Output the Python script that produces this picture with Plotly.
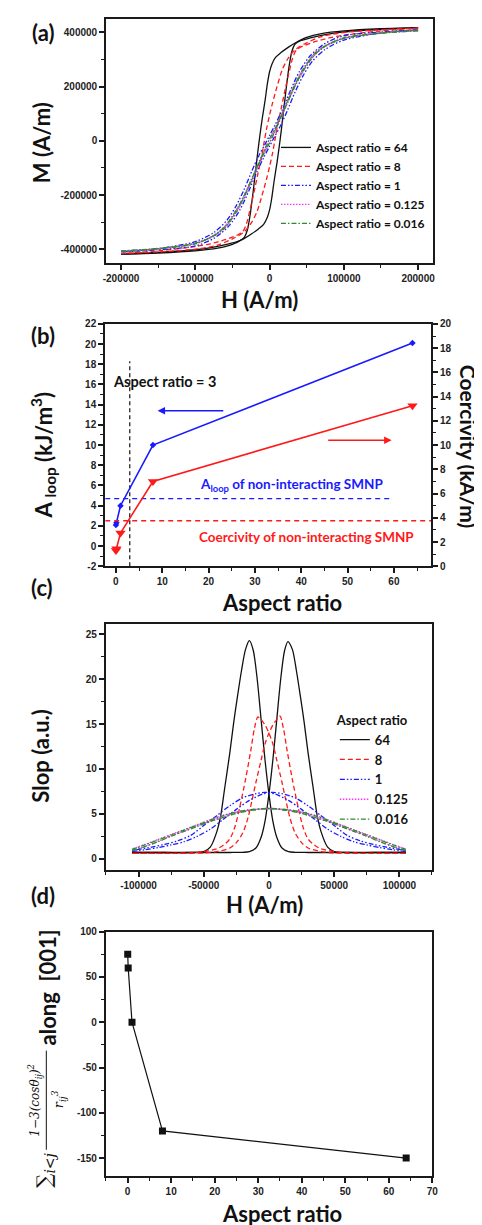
import plotly.graph_objects as go

W, H = 482, 1225
def px(x): return x / W
def py(y): return 1 - y / H

# ---------------- Panel (a): hysteresis loops ----------------
ar_names_a = ["Aspect ratio = 64", "Aspect ratio = 8", "Aspect ratio = 1",
              "Aspect ratio = 0.125", "Aspect ratio = 0.016"]

h_64_desc = [200000, 150000, 100000, 70000, 50000, 35000, 25000, 15000, 8000, 3000, 0, -3000, -6000, -10000,
             -14000, -18000, -22000, -26000, -30000, -34000, -40000, -55000, -75000, -100000, -150000, -200000]
m_64_desc = [418000, 414000, 406000, 396000, 382000, 362000, 345000, 325000, 308000, 282000, 255000, 210000, 150000, 80000,
             0, -90000, -185000, -270000, -330000, -356000, -368000, -380000, -392000, -402000, -412000, -418000]
h_64_asc = [-200000, -150000, -100000, -70000, -50000, -35000, -25000, -15000, -8000, -3000, 0, 3000, 6000, 10000,
            14000, 18000, 22000, 26000, 30000, 34000, 40000, 55000, 75000, 100000, 150000, 200000]
m_64_asc = [-418000, -414000, -406000, -396000, -382000, -362000, -345000, -325000, -308000, -282000, -255000, -210000, -150000, -80000,
            0, 90000, 185000, 270000, 330000, 356000, 368000, 380000, 392000, 402000, 412000, 418000]

h_8_desc = [200000, 150000, 100000, 70000, 50000, 35000, 25000, 17000, 10000, 4000, 0, -4000, -7000, -11000,
            -16000, -21000, -26000, -31000, -36000, -45000, -60000, -80000, -100000, -150000, -200000]
m_8_desc = [416000, 410000, 400000, 385000, 362000, 338000, 305000, 262000, 200000, 140000, 95000, 45000, 0, -60000,
            -125000, -190000, -250000, -305000, -335000, -350000, -365000, -380000, -390000, -406000, -416000]
h_8_asc = [-200000, -150000, -100000, -70000, -50000, -35000, -25000, -17000, -10000, -4000, 0, 4000, 7000, 11000,
           16000, 21000, 26000, 31000, 36000, 45000, 60000, 80000, 100000, 150000, 200000]
m_8_asc = [-416000, -410000, -400000, -385000, -362000, -338000, -305000, -262000, -200000, -140000, -95000, -45000, 0, 60000,
           125000, 190000, 250000, 305000, 335000, 350000, 365000, 380000, 390000, 406000, 416000]

h_1_desc = [200000, 150000, 100000, 75000, 55000, 40000, 28000, 18000, 8000, 0, -6000, -14000, -24000, -34000,
            -45000, -58000, -75000, -100000, -150000, -200000]
m_1_desc = [410000, 402000, 388000, 360000, 315000, 255000, 185000, 120000, 62000, 20000, -12000, -52000, -112000, -178000,
            -240000, -295000, -338000, -372000, -398000, -410000]
h_1_asc = [-200000, -150000, -100000, -75000, -55000, -40000, -28000, -18000, -8000, 0, 6000, 14000, 24000, 34000,
           45000, 58000, 75000, 100000, 150000, 200000]
m_1_asc = [-410000, -402000, -388000, -360000, -315000, -255000, -185000, -120000, -62000, -20000, 12000, 52000, 112000, 178000,
           240000, 295000, 338000, 372000, 398000, 410000]

h_s_desc = [200000, 150000, 100000, 75000, 60000, 45000, 35000, 25000, 15000, 8000, 0, -6000, -15000, -25000,
            -35000, -45000, -60000, -75000, -100000, -150000, -200000]
h_s_asc = [-200000, -150000, -100000, -75000, -60000, -45000, -35000, -25000, -15000, -8000, 0, 6000, 15000, 25000,
           35000, 45000, 60000, 75000, 100000, 150000, 200000]
m_0125_desc = [407000, 398000, 380000, 352000, 322000, 265000, 215000, 155000, 92000, 50000, 8000, -28000, -82000, -145000,
               -205000, -255000, -314000, -348000, -378000, -398000, -407000]
m_0125_asc = [-407000, -398000, -380000, -352000, -322000, -265000, -215000, -155000, -92000, -50000, -8000, 28000, 82000, 145000,
              205000, 255000, 314000, 348000, 378000, 398000, 407000]
m_0016_desc = [406000, 397000, 378000, 350000, 320000, 263000, 212000, 152000, 90000, 48000, 7000, -29000, -84000, -147000,
               -207000, -257000, -316000, -350000, -380000, -399000, -408000]
m_0016_asc = [-406000, -397000, -378000, -350000, -320000, -263000, -212000, -152000, -90000, -48000, -7000, 29000, 84000, 147000,
              207000, 257000, 316000, 350000, 380000, 399000, 408000]

a_xticks = [-200000, -100000, 0, 100000, 200000]
a_xtext = ["-200000", "-100000", "0", "100000", "200000"]
a_yticks = [-400000, -200000, 0, 200000, 400000]
a_ytext = ["-400000", "-200000", "0", "200000", "400000"]

# ---------------- Panel (b) ----------------
ar_b = [0.016, 0.125, 1, 8, 64]
aloop_b = [2.1, 2.3, 4.0, 10.0, 20.1]
coerc_b = [1.3, 1.45, 2.75, 7.0, 13.25]
ar3_line_x = [3, 3]
ar3_line_y = [-2, 18.3]
aloop_ref_x = [-2.3, 59.3]
aloop_ref_y = [4.7, 4.7]
coerc_ref_x = [-2.3, 68]
coerc_ref_y = [3.75, 3.75]
b_ytext_vals = [-2, 0, 2, 4, 6, 8, 10, 12, 14, 16, 18, 20, 22]
b_ytext = ["-2", "0", "2", "4", "6", "8", "10", "12", "14", "16", "18", "20", "22"]

# ---------------- Panel (c): slopes ----------------
ar_names_c = ["64", "8", "1", "0.125", "0.016"]
h_c64_l = [-105000, -80000, -60000, -50000, -45000, -40000, -37000, -34000, -30000, -27000, -24000, -21000, -18000, -15000,
           -12000, -9000, -6000, -3000, 0, 3000, 6000, 10000, 15000, 20000, 30000, 50000, 80000, 105000]
s_c64_l = [0.7, 0.7, 0.7, 0.8, 1.3, 3.0, 4.8, 7.8, 11.8, 15.2, 18.2, 21.0, 23.3, 24.3,
           23.2, 20.0, 15.5, 11.0, 7.2, 4.2, 2.4, 1.2, 0.8, 0.72, 0.7, 0.7, 0.7, 0.7]
h_c64_r = [105000, 80000, 60000, 50000, 45000, 40000, 37000, 34000, 30000, 27000, 24000, 21000, 18000, 14500,
           12000, 9000, 6000, 3000, 0, -3000, -6000, -10000, -15000, -20000, -30000, -50000, -80000, -105000]
s_c64_r = [0.7, 0.7, 0.7, 0.8, 1.3, 3.0, 4.8, 7.8, 11.8, 15.2, 18.2, 21.0, 23.3, 24.2,
           23.2, 20.0, 15.5, 11.0, 7.2, 4.2, 2.4, 1.2, 0.8, 0.72, 0.7, 0.7, 0.7, 0.7]

h_c8_l = [-105000, -80000, -60000, -50000, -40000, -35000, -30000, -26000, -22000, -18000, -14000, -11000, -8500, -6000,
          -3000, 0, 3000, 6000, 10000, 13000, 16000, 20000, 25000, 30000, 40000, 50000, 70000, 105000]
s_c8_l = [0.6, 0.6, 0.65, 0.8, 1.1, 1.5, 2.2, 3.6, 6.0, 8.8, 12.0, 14.6, 15.8, 15.5,
          14.9, 14.0, 12.8, 11.0, 8.5, 6.5, 4.6, 2.9, 1.8, 1.2, 0.8, 0.65, 0.6, 0.6]
h_c8_r = [105000, 80000, 60000, 50000, 40000, 35000, 30000, 26000, 22000, 18000, 14000, 11000, 8500, 6000,
          3000, 0, -3000, -6000, -10000, -13000, -16000, -20000, -25000, -30000, -40000, -50000, -70000, -105000]
s_c8_r = [0.6, 0.6, 0.65, 0.8, 1.1, 1.5, 2.2, 3.6, 6.0, 8.8, 12.0, 14.6, 15.9, 15.5,
          14.9, 14.0, 12.8, 11.0, 8.5, 6.5, 4.6, 2.9, 1.8, 1.2, 0.8, 0.65, 0.6, 0.6]

h_c1_r = [-105000, -95000, -85000, -75000, -65000, -55000, -45000, -35000, -25000, -15000, -5000, 0, 3000,
          10000, 20000, 30000, 40000, 50000, 60000, 70000, 80000, 90000, 100000, 105000]
s_c1 = [0.8, 1.0, 1.25, 1.55, 1.9, 2.5, 3.3, 4.4, 5.5, 6.5, 7.2, 7.35, 7.4,
        7.25, 6.8, 5.9, 4.8, 3.7, 2.6, 2.0, 1.6, 1.3, 1.05, 0.95]
h_c1_l = [105000, 95000, 85000, 75000, 65000, 55000, 45000, 35000, 25000, 15000, 5000, 0, -3000,
          -10000, -20000, -30000, -40000, -50000, -60000, -70000, -80000, -90000, -100000, -105000]

h_cs_r = [-105000, -95000, -85000, -75000, -65000, -55000, -45000, -35000, -25000, -15000, -5000, 0,
          5000, 15000, 25000, 35000, 45000, 55000, 65000, 75000, 85000, 95000, 105000]
h_cs_l = [105000, 95000, 85000, 75000, 65000, 55000, 45000, 35000, 25000, 15000, 5000, 0,
          -5000, -15000, -25000, -35000, -45000, -55000, -65000, -75000, -85000, -95000, -105000]
s_c0125 = [0.95, 1.4, 1.95, 2.55, 3.1, 3.65, 4.2, 4.65, 5.1, 5.4, 5.55, 5.58,
           5.56, 5.45, 5.22, 4.85, 4.35, 3.8, 3.25, 2.7, 2.15, 1.6, 1.1]
s_c0016 = [0.9, 1.35, 1.9, 2.5, 3.05, 3.6, 4.15, 4.6, 5.05, 5.35, 5.55, 5.6,
           5.58, 5.45, 5.2, 4.8, 4.3, 3.75, 3.2, 2.65, 2.1, 1.55, 1.05]

c_xticks = [-100000, -50000, 0, 50000, 100000]
c_xtext = ["-100000", "-50000", "0", "50000", "100000"]

# ---------------- Panel (d) ----------------
ar_d = [0.016, 0.125, 1, 8, 64]
dip_d = [75, 60, 0, -120, -150]
d_yticks = [-150, -100, -50, 0, 50, 100]
d_ytext = ["-150", "-100", "-50", "0", "50", "100"]

# ---------------- styles ----------------
BLACK, RED, BLUE, MAG, GRN = "#111111", "#ff1a1a", "#1a1aff", "#ff33ff", "#2e8b2e"
colors = [BLACK, RED, BLUE, MAG, GRN]
dashes = ["solid", "5px,3px", "5px,2px,1.5px,2px,1.5px,2px", "1.5px,1.5px", "5px,2px,1.5px,2px"]
LW = 1.3

fig = go.Figure()

loops = [(h_64_desc, m_64_desc, h_64_asc, m_64_asc),
         (h_8_desc, m_8_desc, h_8_asc, m_8_asc),
         (h_1_desc, m_1_desc, h_1_asc, m_1_asc),
         (h_s_desc, m_0125_desc, h_s_asc, m_0125_asc),
         (h_s_desc, m_0016_desc, h_s_asc, m_0016_asc)]
for i, (hd, md, ha, ma) in enumerate(loops):
    for j, (hx, my) in enumerate([(hd, md), (ha, ma)]):
        fig.add_trace(go.Scatter(x=hx, y=my, mode="lines", xaxis="x", yaxis="y",
                                 name=ar_names_a[i], showlegend=(j == 0), legend="legend",
                                 line=dict(color=colors[i], width=LW, dash=dashes[i],
                                           shape="spline", smoothing=0.8)))

# panel b
fig.add_trace(go.Scatter(x=ar3_line_x, y=ar3_line_y, mode="lines", xaxis="x2", yaxis="y2", showlegend=False,
                         line=dict(color=BLACK, width=1.2, dash="4px,3px")))
fig.add_trace(go.Scatter(x=aloop_ref_x, y=aloop_ref_y, mode="lines", xaxis="x2", yaxis="y2", showlegend=False,
                         line=dict(color=BLUE, width=1.3, dash="5px,4px")))
fig.add_trace(go.Scatter(x=coerc_ref_x, y=coerc_ref_y, mode="lines", xaxis="x2", yaxis="y3", showlegend=False,
                         line=dict(color=RED, width=1.5, dash="5px,4px")))
fig.add_trace(go.Scatter(x=ar_b, y=aloop_b, mode="lines+markers", xaxis="x2", yaxis="y2", showlegend=False,
                         line=dict(color=BLUE, width=1.6),
                         marker=dict(symbol="diamond", size=5, color=BLUE)))
fig.add_trace(go.Scatter(x=ar_b, y=coerc_b, mode="lines+markers", xaxis="x2", yaxis="y3", showlegend=False,
                         line=dict(color=RED, width=1.6),
                         marker=dict(symbol="triangle-down", size=9, color=RED)))

# panel c
slopes = [((h_c64_l, s_c64_l), (h_c64_r, s_c64_r)),
          ((h_c8_l, s_c8_l), (h_c8_r, s_c8_r)),
          ((h_c1_l, s_c1), (h_c1_r, s_c1)),
          ((h_cs_l, s_c0125), (h_cs_r, s_c0125)),
          ((h_cs_l, s_c0016), (h_cs_r, s_c0016))]
for i, pair in enumerate(slopes):
    for j, (hx, sv) in enumerate(pair):
        fig.add_trace(go.Scatter(x=hx, y=sv, mode="lines", xaxis="x3", yaxis="y4",
                                 name=ar_names_c[i], showlegend=(j == 0), legend="legend2",
                                 line=dict(color=colors[i], width=LW, dash=dashes[i],
                                           shape="spline", smoothing=0.8)))

# panel d
fig.add_trace(go.Scatter(x=ar_d, y=dip_d, mode="lines+markers", xaxis="x4", yaxis="y5", showlegend=False,
                         line=dict(color=BLACK, width=1.2),
                         marker=dict(symbol="square", size=7, color=BLACK)))

TICKFONT = dict(family="Liberation Sans", size=10, color="#222222", weight="bold")
def axis(domain, anchor, rng, **kw):
    d = dict(domain=domain, anchor=anchor, range=rng, showline=True, mirror=True,
             linecolor="#1a1a1a", linewidth=2, showgrid=False, zeroline=False,
             ticks="outside", ticklen=5, tickwidth=1.5, tickcolor="#1a1a1a",
             tickfont=TICKFONT, fixedrange=True)
    d.update(kw)
    return d

def minor(dt, t0=0):
    return dict(dtick=dt, tick0=t0, ticks="outside", ticklen=3, tickwidth=1.2, tickcolor="#1a1a1a")

lay = dict(
    width=W, height=H, margin=dict(l=0, r=0, t=0, b=0),
    paper_bgcolor="white", plot_bgcolor="white",
    xaxis=axis([px(97), px(430)], "y", [-220000, 220000], tickmode="array", tickvals=a_xticks,
               ticktext=a_xtext, minor=minor(50000)),
    yaxis=axis([py(251), py(5)], "x", [-450000, 450000], tickmode="array", tickvals=a_yticks,
               ticktext=a_ytext, minor=minor(100000)),
    xaxis2=axis([px(96), px(428)], "y2", [-2.3, 68], dtick=10, tick0=0, minor=minor(5)),
    yaxis2=axis([py(557.3), py(312.7)], "x2", [-2, 22], tickmode="array", tickvals=b_ytext_vals,
                ticktext=b_ytext, minor=minor(1), mirror=False),
    yaxis3=axis([py(557.3), py(312.7)], "x2", [0, 20], overlaying="y2", side="right",
                dtick=2, tick0=0, minor=minor(1), mirror=False),
    xaxis3=axis([px(96.7), px(429)], "y4", [-125000, 125000], tickmode="array", tickvals=c_xticks,
                ticktext=c_xtext, minor=minor(25000)),
    yaxis4=axis([py(863.3), py(616)], "x3", [-1.2, 26.1], dtick=5, tick0=0, minor=minor(2.5)),
    xaxis4=axis([px(96.7), px(429.3)], "y5", [-5, 70], dtick=10, tick0=0, minor=minor(5)),
    yaxis5=axis([py(1172.7), py(926)], "x4", [-170, 100], tickmode="array", tickvals=d_yticks,
                ticktext=d_ytext, minor=minor(25)),
    legend=dict(x=px(270), y=py(120), xanchor="left", yanchor="top", bgcolor="rgba(0,0,0,0)",
                font=dict(family="Lato", size=12, color="#111111", weight="bold"),
                tracegroupgap=0, itemwidth=30),
    legend2=dict(x=px(330), y=py(700), xanchor="left", yanchor="top", bgcolor="rgba(0,0,0,0)",
                 font=dict(family="Lato", size=13, color="#111111", weight="bold"),
                 title=dict(text="Aspect ratio", side="top",
                            font=dict(family="Lato", size=13, color="#111111", weight="bold")),
                 tracegroupgap=0, itemwidth=30),
)

def ann(text, x, y, size=22, angle=0, color="#111111", family="Lato", weight="bold", style="normal"):
    return dict(text=text, x=px(x), y=py(y), xref="paper", yref="paper", showarrow=False,
                textangle=angle, xanchor="center", yanchor="middle",
                font=dict(family=family, size=size, color=color, weight=weight, style=style))

anns = [
    ann("(a)", 32.5, 19), ann("(b)", 33, 324), ann("(c)", 31.5, 579), ann("(d)", 33, 889),
    ann("H (A/m)", 253.5, 288), ann("M (A/m)", 31, 130, angle=-90),
    ann("Aspect ratio", 276.5, 594), ann("A <sub>loop</sub> (kJ/m<sup>3</sup>)", 33, 445, angle=-90),
    ann("Coercivity (kA/m)", 467, 437, size=21, angle=90),
    ann("Slop (a.u.)", 30, 748, angle=-90), ann("H (A/m)", 258, 899),
    ann("Aspect ratio", 276, 1210), ann("along  [001]", 37, 982, angle=-90),
    ann("1−3(cos<i>θ</i><sub><i>ij</i></sub>)<sup>2</sup>", 25, 1096, size=12, angle=-90,
        family="DejaVu Serif", weight="normal", style="italic"),
    ann("<i>r</i><sub><i>ij</i></sub><sup>3</sup>", 49, 1095, size=13, angle=-90,
        family="DejaVu Serif", weight="normal", style="italic"),
    ann("∑<sub><i>i&lt;j</i></sub>", 34, 1167, size=20, angle=-90,
        family="DejaVu Serif", weight="normal"),
    dict(text="Aspect ratio = 3", x=10.5, y=16.3, xref="x2", yref="y2", showarrow=False,
         font=dict(family="Lato", size=14.5, color="#111111", weight="bold")),
    dict(text="A<sub>loop</sub> of non-interacting SMNP", x=37.9, y=6.0, xref="x2", yref="y2", showarrow=False,
         font=dict(family="Lato", size=13.5, color=BLUE, weight="bold")),
    dict(text="Coercivity of non-interacting SMNP", x=41.2, y=0.9, xref="x2", yref="y2", showarrow=False,
         font=dict(family="Lato", size=13.5, color=RED, weight="bold")),
    dict(text="", x=9, y=13.4, ax=23.5, ay=13.4, xref="x2", yref="y2", axref="x2", ayref="y2",
         showarrow=True, arrowhead=2, arrowsize=1, arrowwidth=1.5, arrowcolor=BLUE),
    dict(text="", x=59.5, y=10.4, ax=45.5, ay=10.4, xref="x2", yref="y3", axref="x2", ayref="y3",
         showarrow=True, arrowhead=2, arrowsize=1, arrowwidth=1.5, arrowcolor=RED),
]
lay["annotations"] = anns
lay["shapes"] = [dict(type="line", xref="paper", yref="paper", x0=px(36), x1=px(36),
                      y0=py(1146), y1=py(1046), line=dict(color="#111111", width=1))]

fig.update_layout(**lay)
fig.write_html("out.html")
